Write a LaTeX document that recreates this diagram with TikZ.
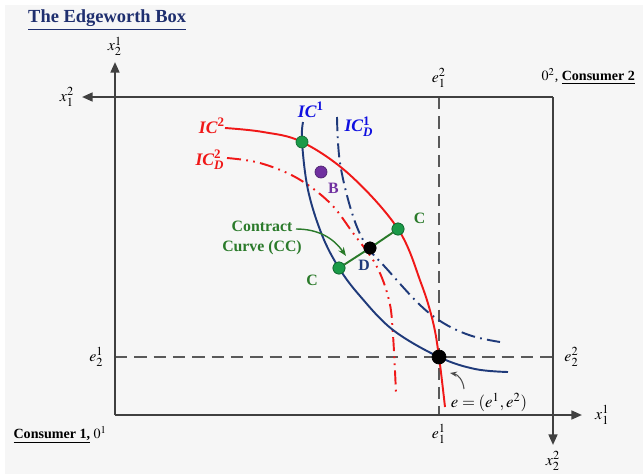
\documentclass[tikz,border=0pt]{standalone}
\usepackage{amsmath}
\usepackage{mathptmx}
\usepackage{fontspec}
\setmainfont{Liberation Serif}
\usepackage{xcolor}
\usetikzlibrary{arrows.meta, positioning}

\definecolor{boxnavy}{HTML}{1F3A7A}
\definecolor{titlenavy}{HTML}{1F2F6F}
\definecolor{icred}{HTML}{F01818}
\definecolor{icblue}{HTML}{1010E0}
\definecolor{ccgreen}{HTML}{2A7A2A}
\definecolor{dotgreen}{HTML}{1A9A48}
\definecolor{bpurple}{HTML}{7030A0}

\newcommand{\iclab}[2]{\textbf{\textit{IC}}$^{\textbf{#1}}_{\textbf{\textit{#2}}}$}

\begin{document}
\begin{tikzpicture}[
    x=0.02cm, y=-0.02cm,
    font=\fontsize{8}{9.5}\selectfont,
    axis/.style={-{Triangle[length=6pt,width=5pt]}, line width=1.2pt, draw=black!75},
    guide/.style={dash pattern=on 7pt off 4pt, line width=1.1pt, draw=black!65},
    dot/.style={circle, fill=#1, draw=#1!70!black, inner sep=0pt, minimum size=0.24cm},
    icsolid/.style={line width=1.1pt, draw=#1},
    icdash/.style={line width=1.1pt, draw=#1, dash pattern=on 8pt off 3pt on 1pt off 3pt},
    icdots/.style={line width=1.1pt, draw=#1, dash pattern=on 8pt off 3pt on 1pt off 3pt on 1pt off 3pt},
    iclbl/.style={font=\fontsize{10}{12}\selectfont, text=#1},
    pt/.style={font=\fontsize{9}{11}\selectfont\bfseries, text=#1},
    axlbl/.style={font=\fontsize{9}{11}\selectfont},
    garr/.style={-{Stealth[length=5pt]}, line width=0.8pt, ccgreen},
    harr/.style={-{Stealth[length=4pt]}, line width=0.6pt, black!70}
  ]

  \useasboundingbox (0,0) rectangle (643,474);
  \fill[gray!7] (5,5) rectangle (643,474);

  % origins and axis ends
  \coordinate (o1) at (115,415);
  \coordinate (o2) at (553,97);
  \coordinate (x1end) at (582,415);
  \coordinate (y1end) at (115,62);
  \coordinate (x2end) at (82,97);
  \coordinate (y2end) at (553,445);

  % endowment guides
  \coordinate (e1top) at (439,97);
  \coordinate (e1bot) at (439,415);
  \coordinate (e2l) at (115,357);
  \coordinate (e2r) at (553,357);
  \draw[guide] (e1top) -- (e1bot);
  \draw[guide] (e2l) -- (e2r);

  \draw[axis] (o1) -- (x1end);
  \draw[axis] (o1.center) -- (y1end);
  \draw[axis] (o2) -- (x2end);
  \draw[axis] (o2.center) -- (y2end);

  % indifference curves
  \draw[icdots=icred] plot[smooth, tension=0.6] coordinates
    {(227,158) (260,163) (297,178) (330,203) (353,233) (376,265) (389,300) (393,335) (396,393)};
  \draw[icdash=boxnavy] plot[smooth, tension=0.6] coordinates
    {(337,117) (340,163) (352,213) (366,245) (386,268) (420,305) (445,324) (472,336) (500,342)};
  \draw[icsolid=icred] plot[smooth, tension=0.6] coordinates
    {(225,128) (263,132) (302,142) (350,175) (398,229) (421,283) (433,322) (439,357) (445,407)};
  \draw[icsolid=boxnavy] plot[smooth, tension=0.6] coordinates
    {(303,122) (302,142) (308,190) (322,235) (339,268) (360,296) (393,330) (439,357) (475,369) (508,372)};

  % points
  \node[dot=dotgreen] (a) at (302,142) {};
  \node[dot=bpurple] (b) at (321,172) {};
  \node[dot=dotgreen] (cu) at (398,229) {};
  \node[dot=black] (d) at (370,248) {};
  \node[dot=dotgreen] (cl) at (339,268) {};
  \draw[line width=1.1pt, ccgreen] (cl) -- (d) -- (cu);
  \node[dot=dotgreen] at (cu) {};
  \node[dot=black] at (d) {};
  \node[dot=dotgreen] at (cl) {};
  \node[dot=black, minimum size=0.28cm] (e) at (439,357) {};

  \node[pt=bpurple, below right=0pt and -2pt of b] (blbl) {B};
  \node[pt=ccgreen, above right=-3pt and 3pt of cu] (culbl) {C};
  \node[pt=boxnavy, below left=1pt and -6pt of d] (dlbl) {D};
  \node[pt=ccgreen, below left=-2pt and 6pt of cl] (cllbl) {C};

  % curve labels
  \node[iclbl=icred] (ic2) at (212,128) {\iclab{2}{}};
  \node[iclbl=icred] (ic2d) at (210,160) {\iclab{2}{D}};
  \node[iclbl=icblue] (ic1) at (311,112) {\iclab{1}{}};
  \node[iclbl=icblue] (ic1d) at (359,127) {\iclab{1}{D}};

  % contract curve
  \node[pt=ccgreen, align=center] (cc) at (262,238) {Contract\\Curve (CC)};
  \coordinate (ccend) at (346,256);
  \draw[garr] (296,229) to[out=0, in=125] (ccend);

  % endowment
  \node (elbl) at (489,402) {\fontsize{9.5}{11}\selectfont$e=(e^1,e^2)$};
  \coordinate (ehook) at (464,389);
  \coordinate (etip) at (450,373);
  \draw[harr] (ehook) to[out=95, in=-10] (etip);

  % axis labels
  \node[axlbl, above=0pt of y1end] {$x_2^1$};
  \node[axlbl, left=1pt of x2end] {$x_1^2$};
  \node[axlbl, right=4pt of x1end] {$x_1^1$};
  \node[axlbl, below=0pt of y2end] {$x_2^2$};
  \node[axlbl, above=2pt of e1top] {$e_1^2$};
  \node[axlbl, below=2pt of e1bot] {$e_1^1$};
  \node[axlbl, left=3pt of e2l] {$e_2^1$};
  \node[axlbl, right=3pt of e2r] {$e_2^2$};

  % owners
  \node[anchor=south east] (cons2) at (641,90) {$0^2$, \textbf{\underline{Consumer 2}}};
  \node[anchor=north east] (cons1) at (113,420) {\textbf{\underline{Consumer 1,}}\ $0^1$};
  \node[anchor=west, text=titlenavy, font=\fontsize{10.5}{12}\selectfont\bfseries] (title) at (22,20) {\underline{The Edgeworth Box}};

\end{tikzpicture}
\end{document}
